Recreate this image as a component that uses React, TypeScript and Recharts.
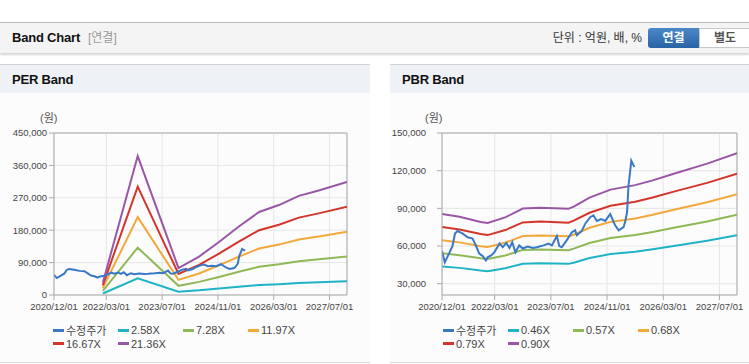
import React from 'react';
import { LineChart, Line, XAxis, YAxis, CartesianGrid, ReferenceLine } from 'recharts';

// x positions are months since 2020/12/01
const TICK_MONTHS = [0, 15, 31, 47, 63, 79];
const TICK_LABELS = ['2020/12/01', '2022/03/01', '2023/07/01', '2024/11/01', '2026/03/01', '2027/07/01'];
const X_END = 84;

const PRICE_NAME = '수정주가';
const PRICE_MONTHS = [0, 0.8, 2, 3, 3.7, 4.4, 5.8, 7.3, 8.7, 9.7, 10.6, 11.6, 12.5, 13, 14, 14.9, 16.4, 17.3, 18.3, 19.2, 20, 20.9, 22, 23, 24.4, 25.9, 27, 28.9, 30.3, 31.3, 32.7, 33.4, 34.1, 35.5, 37, 37.9, 38.4, 39.8, 40.8, 42.2, 43.1, 44.1, 45.3, 46.5, 47.9, 49.3, 50.3, 51.7, 52.2, 52.7, 53.1, 53.6, 53.9, 54.4, 54.8];
const PRICE_VALUES = [56000, 47000, 54000, 60000, 70000, 72000, 70000, 67000, 66000, 60000, 54000, 52000, 48500, 51000, 52500, 55000, 62000, 59000, 62500, 58500, 63000, 55000, 60500, 58000, 59500, 58500, 59000, 60500, 62000, 60500, 68000, 60000, 59000, 64500, 71000, 72500, 68500, 72000, 77800, 83000, 84500, 80000, 81500, 80000, 85500, 76500, 72500, 75000, 80000, 87000, 108000, 120000, 128000, 125000, 123000];

// PER band
const PER_MONTHS = [14, 24, 35.7, 41.6, 47.3, 53, 58.8, 64.5, 70.2, 75.9, 84];
const PER_NAMES = ['2.58X', '7.28X', '11.97X', '16.67X', '21.36X'];
const PER_258 = [4100, 46600, 9000, 12900, 17800, 23000, 27900, 30200, 33300, 35100, 37900];
const PER_728 = [11600, 131500, 25500, 36400, 50200, 64800, 78600, 85200, 93900, 99000, 107000];
const PER_1197 = [19200, 216300, 41900, 59900, 82600, 106500, 129300, 140000, 154400, 162800, 176000];
const PER_1667 = [26700, 301200, 58300, 83400, 115000, 148400, 180000, 195000, 215000, 226700, 245000];
const PER_2136 = [34200, 386000, 74800, 106800, 147400, 190100, 230700, 249900, 275500, 290500, 314000];
const PER_TICKS = [0, 90000, 180000, 270000, 360000, 450000];

// PBR band
const PBR_MONTHS = [0, 5, 11, 13, 18, 23, 28, 36, 37.5, 42, 48, 55, 60, 66, 75.5, 84];
const PBR_NAMES = ['0.46X', '0.57X', '0.68X', '0.79X', '0.90X'];
const PBR_046 = [43700, 42600, 40500, 40000, 42300, 45900, 46300, 45800, 46700, 50400, 53600, 55400, 57400, 60100, 64200, 68500];
const PBR_057 = [54200, 52700, 50200, 49600, 52400, 56900, 57300, 56700, 57900, 62400, 66400, 68700, 71100, 74500, 79600, 84900];
const PBR_068 = [64600, 62900, 59800, 59200, 62600, 67900, 68400, 67700, 69000, 74500, 79200, 81900, 84900, 88900, 94900, 101300];
const PBR_079 = [75100, 73100, 69500, 68700, 72700, 78800, 79500, 78600, 80200, 86500, 92000, 95200, 98600, 103300, 110300, 117600];
const PBR_090 = [85500, 83300, 79200, 78300, 82800, 89800, 90500, 89600, 91400, 98600, 104900, 108500, 112300, 117600, 125600, 134000];
const PBR_TICKS = [30000, 60000, 90000, 120000, 150000];
const PBR_MIN = 21000;

const PRICE_COLOR = '#3a78c6';
const BAND_COLORS = ['#1fb3c5', '#8fb856', '#f2a83a', '#d3352b', '#9a56a6'];

const FONT = "'Liberation Sans', 'Noto Sans CJK KR', sans-serif";
const TICK_FONT = "'Liberation Sans', Arial, sans-serif";

const toRows = (ms: number[], vs: number[]) => ms.map((m, i) => ({ m, v: vs[i] }));
const fmtX = (v: number) => {
  const i = TICK_MONTHS.indexOf(v);
  return i >= 0 ? TICK_LABELS[i] : '';
};
const fmtY = (v: number) => v.toLocaleString('en-US');

type Series = { name: string; color: string; rows: { m: number; v: number }[] };

function Band(props: {
  left: number;
  width: number;
  yWidth: number;
  marginRight: number;
  domain: [number, number];
  ticks: number[];
  yTickMargin: number;
  series: Series[];
}) {
  const { left, width, yWidth, marginRight, domain, ticks, yTickMargin, series } = props;
  return (
    <div style={{ position: 'absolute', left, top: 100 }}>
      <LineChart width={width} height={220} margin={{ top: 33, right: marginRight, bottom: 0, left: 0 }}>
        <CartesianGrid stroke="#e6e6e6" />
        <XAxis
          type="number"
          dataKey="m"
          domain={[0, X_END]}
          ticks={TICK_MONTHS}
          tickFormatter={fmtX}
          height={25}
          interval={0}
          axisLine={{ stroke: '#aaa' }}
          tickLine={{ stroke: '#aaa' }}
          tickSize={5}
          tickMargin={3}
          tick={{ fontSize: 9.5, fill: '#444', fontFamily: TICK_FONT }}
          allowDataOverflow
        />
        <YAxis
          type="number"
          domain={domain}
          ticks={ticks}
          tickFormatter={fmtY}
          width={yWidth}
          interval={0}
          axisLine={{ stroke: '#aaa' }}
          tickLine={{ stroke: '#aaa' }}
          tickSize={5}
          tickMargin={yTickMargin}
          tick={{ fontSize: 9.5, fill: '#444', fontFamily: TICK_FONT }}
          allowDataOverflow
        />
        <ReferenceLine x={X_END} stroke="#aaa" />
        <ReferenceLine y={domain[1]} stroke="#aaa" />
        {series.map((s) => (
          <Line
            key={s.name}
            data={s.rows}
            dataKey="v"
            name={s.name}
            type="linear"
            stroke={s.color}
            strokeWidth={2}
            dot={false}
            activeDot={false}
            isAnimationActive={false}
          />
        ))}
      </LineChart>
    </div>
  );
}

function Legend({ x0, series }: { x0: number; series: Series[] }) {
  return (
    <>
      {series.map((s, i) => {
        const col = i % 4;
        const row = Math.floor(i / 4);
        return (
          <div
            key={s.name}
            style={{
              position: 'absolute',
              left: x0 + col * 65,
              top: 323 + row * 13.5,
              height: 14,
              display: 'flex',
              alignItems: 'center',
              fontSize: 11,
              color: '#444',
              fontFamily: FONT,
              whiteSpace: 'nowrap',
            }}
          >
            <span style={{ display: 'inline-block', width: 11, height: 3, background: s.color, marginRight: 2 }} />
            <span>{s.name}</span>
          </div>
        );
      })}
    </>
  );
}

function Panel({ left, width, title }: { left: number; width: number; title: string }) {
  return (
    <>
      <div
        style={{
          position: 'absolute',
          left,
          top: 64,
          width,
          height: 29,
          boxSizing: 'border-box',
          borderTop: '1px solid #d2d2d2',
          background: '#eef2f7',
        }}
      />
      <div
        style={{
          position: 'absolute',
          left,
          top: 93,
          width,
          height: 270,
          boxSizing: 'border-box',
          borderBottom: '1px solid #d6d6d6',
          background: '#fcfcfc',
        }}
      />
      <div style={{ position: 'absolute', left: left + 12, top: 71, lineHeight: '18px', fontSize: 13, fontWeight: 700, color: '#111', letterSpacing: -0.2 }}>
        {title}
      </div>
    </>
  );
}

export default function App() {
  const price: Series = { name: PRICE_NAME, color: PRICE_COLOR, rows: toRows(PRICE_MONTHS, PRICE_VALUES) };
  const perVals = [PER_258, PER_728, PER_1197, PER_1667, PER_2136];
  const pbrVals = [PBR_046, PBR_057, PBR_068, PBR_079, PBR_090];
  const perSeries: Series[] = [price, ...PER_NAMES.map((n, i) => ({ name: n, color: BAND_COLORS[i], rows: toRows(PER_MONTHS, perVals[i]) }))];
  const pbrSeries: Series[] = [price, ...PBR_NAMES.map((n, i) => ({ name: n, color: BAND_COLORS[i], rows: toRows(PBR_MONTHS, pbrVals[i]) }))];
  // draw bands first, price on top
  const perDraw = [...perSeries.slice(1), price];
  const pbrDraw = [...pbrSeries.slice(1), price];

  return (
    <div style={{ position: 'absolute', left: 0, top: 0, width: 749, height: 364, background: '#fff', overflow: 'hidden', fontFamily: FONT }}>
      {/* top header */}
      <div
        style={{
          position: 'absolute',
          left: 0,
          top: 22,
          width: 749,
          height: 31,
          boxSizing: 'border-box',
          borderTop: '1px solid #b8b8b8',
          background: '#f4f4f4',
          boxShadow: '0 2px 2px rgba(0,0,0,0.16)',
        }}
      />
      <div style={{ position: 'absolute', left: 12, top: 29, lineHeight: '18px', fontSize: 13, fontWeight: 700, color: '#111', letterSpacing: -0.2 }}>
        Band Chart
      </div>
      <div style={{ position: 'absolute', left: 88, top: 29, lineHeight: '18px', fontSize: 12, color: '#999' }}>[연결]</div>
      <div style={{ position: 'absolute', right: 107, top: 29, lineHeight: '18px', fontSize: 12, color: '#333' }}>단위 : 억원, 배, %</div>
      <div
        style={{
          position: 'absolute',
          left: 648,
          top: 28,
          width: 51,
          height: 20,
          borderRadius: '3px 0 0 3px',
          background: 'linear-gradient(#4b88c9, #2863a6)',
          color: '#fff',
          fontSize: 12,
          fontWeight: 700,
          lineHeight: '20px',
          textAlign: 'center',
        }}
      >
        연결
      </div>
      <div
        style={{
          position: 'absolute',
          left: 699,
          top: 28,
          width: 52,
          height: 20,
          boxSizing: 'border-box',
          border: '1px solid #c8c8c8',
          background: '#fff',
          color: '#555',
          fontSize: 12,
          fontWeight: 700,
          lineHeight: '18px',
          textAlign: 'center',
        }}
      >
        별도
      </div>

      <Panel left={0} width={370} title="PER Band" />
      <Panel left={390} width={359} title="PBR Band" />

      <div style={{ position: 'absolute', left: 40, top: 111, fontSize: 11, color: '#555', lineHeight: '14px' }}>(원)</div>
      <div style={{ position: 'absolute', left: 425, top: 111, fontSize: 11, color: '#555', lineHeight: '14px' }}>(원)</div>

      <Band left={0} width={370} yWidth={54} marginRight={23} domain={[0, 450000]} ticks={PER_TICKS} yTickMargin={2} series={perDraw} />
      <Band left={390} width={359} yWidth={52} marginRight={12} domain={[PBR_MIN, 150000]} ticks={PBR_TICKS} yTickMargin={11} series={pbrDraw} />

      <Legend x0={53} series={perSeries} />
      <Legend x0={443} series={pbrSeries} />
    </div>
  );
}
